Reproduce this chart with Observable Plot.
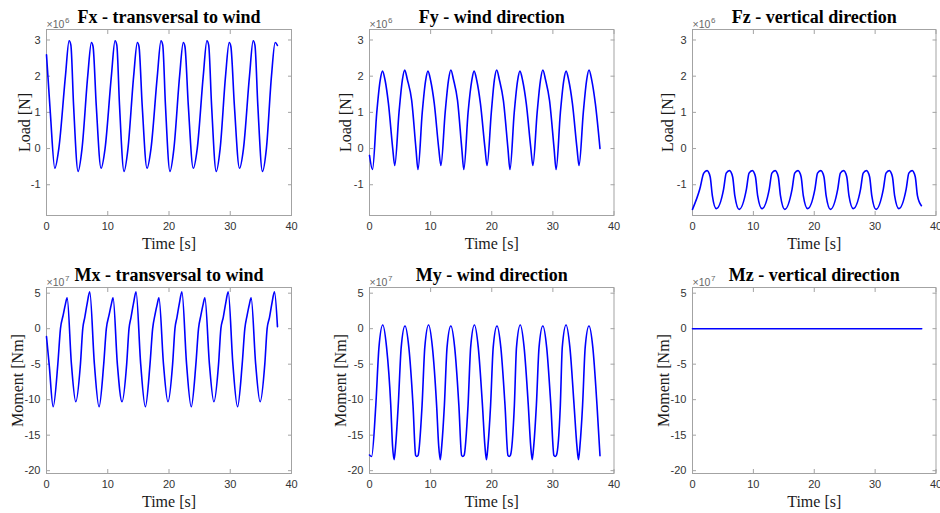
<!DOCTYPE html>
<html>
<head>
<meta charset="utf-8">
<script src="https://cdn.jsdelivr.net/npm/d3@7"></script>
<script src="https://cdn.jsdelivr.net/npm/@observablehq/plot@0.6"></script>
<style>
  body { margin: 0; background: #fff; }
  #grid { position: relative; width: 940px; height: 513px; overflow: hidden; background: #fff; }
  .cell { position: absolute; }
</style>
</head>
<body>
<div id="grid"></div>
<script>
// Tower-base reactions over one simulation run.
// Loads are in units of 1e6 N, moments in units of 1e7 Nm.

const fxTime = [0, 0.62, 1.36,
  2.01, 3.09, 3.69, 3.98, 4.42, 5.16,
  5.80, 6.73, 7.33, 7.60, 8.12, 8.91,
  9.56, 10.59, 11.19, 11.48, 11.92, 12.66,
  13.30, 14.23, 14.83, 15.10, 15.62, 16.41,
  17.06, 18.09, 18.69, 18.98, 19.42, 20.16,
  20.80, 21.73, 22.33, 22.60, 23.15, 23.96,
  24.61, 25.59, 26.19, 26.48, 26.95, 27.71,
  28.35, 29.23, 29.83, 30.10, 30.67, 31.51,
  32.16, 33.14, 33.74, 34.03, 34.50, 35.26,
  35.90, 36.73, 37.33, 37.70];
const fxLoad = [2.59, 1.00, -0.545,
  0.00, 2.00, 2.98, 2.86, 1.20, -0.63,
  0.00, 2.00, 2.93, 2.82, 1.20, -0.545,
  0.00, 2.00, 2.98, 2.86, 1.20, -0.63,
  0.00, 2.00, 2.93, 2.82, 1.20, -0.545,
  0.00, 2.00, 2.98, 2.86, 1.20, -0.63,
  0.00, 2.00, 2.93, 2.82, 1.20, -0.545,
  0.00, 2.00, 2.98, 2.86, 1.20, -0.63,
  0.00, 2.00, 2.93, 2.82, 1.20, -0.545,
  0.00, 2.00, 2.98, 2.86, 1.20, -0.63,
  0.00, 2.00, 2.93, 2.85];

const fyTime = [0, 0.49,
  1.19, 1.74, 2.12, 2.56, 3.10, 3.80, 4.13,
  4.83, 5.38, 5.76, 6.20, 6.90, 7.60, 7.93,
  8.63, 9.18, 9.56, 10.00, 10.60, 11.33, 11.68,
  12.38, 12.93, 13.31, 13.75, 14.40, 15.10, 15.43,
  16.13, 16.73, 17.11, 17.55, 18.15, 18.90, 19.23,
  19.93, 20.43, 20.81, 21.25, 21.90, 22.65, 22.98,
  23.68, 24.23, 24.61, 25.05, 25.65, 26.40, 26.73,
  27.43, 27.98, 28.36, 28.80, 29.45, 30.20, 30.53,
  31.23, 31.78, 32.16, 32.60, 33.20, 33.95, 34.28,
  34.98, 35.53, 35.91, 36.35, 36.95, 37.71];
const fyLoad = [-0.19, -0.58,
  1.00, 1.88, 2.14, 1.88, 1.24, 0.00, -0.47,
  1.00, 1.90, 2.17, 1.90, 1.33, 0.00, -0.58,
  1.00, 1.88, 2.14, 1.88, 1.24, 0.00, -0.47,
  1.00, 1.90, 2.17, 1.90, 1.33, 0.00, -0.58,
  1.00, 1.88, 2.14, 1.88, 1.24, 0.00, -0.47,
  1.00, 1.90, 2.17, 1.90, 1.33, 0.00, -0.58,
  1.00, 1.88, 2.14, 1.88, 1.24, 0.00, -0.47,
  1.00, 1.90, 2.17, 1.90, 1.33, 0.00, -0.58,
  1.00, 1.88, 2.14, 1.88, 1.24, 0.00, -0.47,
  1.00, 1.90, 2.17, 1.90, 1.24, 0.00];

const fzTime = [0,
  1.20, 1.85, 2.39, 2.90, 3.26, 3.91,
  5.11, 5.54, 6.08, 6.59, 6.95, 7.66,
  8.86, 9.29, 9.83, 10.34, 10.70, 11.41,
  12.61, 13.04, 13.58, 14.09, 14.45, 15.16,
  16.36, 16.79, 17.33, 17.84, 18.20, 18.91,
  20.11, 20.54, 21.08, 21.59, 21.95, 22.66,
  23.86, 24.29, 24.83, 25.34, 25.70, 26.41,
  27.61, 28.04, 28.58, 29.09, 29.45, 30.15,
  31.35, 31.79, 32.33, 32.84, 33.20, 33.90,
  35.10, 35.54, 36.08, 36.59, 36.95, 37.60];
const fzLoad = [-1.68,
  -1.12, -0.68, -0.61, -0.78, -1.30, -1.66,
  -1.12, -0.68, -0.61, -0.78, -1.30, -1.68,
  -1.12, -0.68, -0.61, -0.78, -1.30, -1.66,
  -1.12, -0.68, -0.61, -0.78, -1.30, -1.68,
  -1.12, -0.68, -0.61, -0.78, -1.30, -1.66,
  -1.12, -0.68, -0.61, -0.78, -1.30, -1.68,
  -1.12, -0.68, -0.61, -0.78, -1.30, -1.66,
  -1.12, -0.68, -0.61, -0.78, -1.30, -1.68,
  -1.12, -0.68, -0.61, -0.78, -1.30, -1.66,
  -1.12, -0.68, -0.61, -0.78, -1.30, -1.58];

const mxTime = [0, 0.43, 1.09,
  1.85, 2.28, 2.72, 3.10, 3.37, 4.07, 4.78,
  5.54, 5.92, 6.25, 6.65, 7.06, 7.82, 8.58,
  9.34, 9.77, 10.21, 10.60, 10.87, 11.57, 12.33,
  13.09, 13.47, 13.80, 14.21, 14.62, 15.38, 16.14,
  16.90, 17.33, 17.70, 18.09, 18.36, 19.10, 19.83,
  20.59, 20.97, 21.30, 21.70, 22.11, 22.87, 23.63,
  24.39, 24.82, 25.21, 25.59, 25.86, 26.60, 27.33,
  28.09, 28.47, 28.86, 29.26, 29.67, 30.43, 31.19,
  31.95, 32.38, 32.76, 33.14, 33.41, 34.15, 34.88,
  35.64, 36.02, 36.41, 36.81, 37.22, 37.71];
const mxMoment = [-1.12, -5.0, -11.0,
  -5.0, 0.0, 1.9, 3.5, 4.35, -5.0, -10.3,
  -5.0, 0.0, 1.6, 3.6, 5.2, -5.0, -11.0,
  -5.0, 0.0, 1.9, 3.5, 4.35, -5.0, -10.3,
  -5.0, 0.0, 1.6, 3.6, 5.2, -5.0, -11.0,
  -5.0, 0.0, 1.9, 3.5, 4.35, -5.0, -10.3,
  -5.0, 0.0, 1.6, 3.6, 5.2, -5.0, -11.0,
  -5.0, 0.0, 1.9, 3.5, 4.35, -5.0, -10.3,
  -5.0, 0.0, 1.6, 3.6, 5.2, -5.0, -11.0,
  -5.0, 0.0, 1.9, 3.5, 4.35, -5.0, -10.3,
  -5.0, 0.0, 1.6, 3.6, 5.2, 0.28];

const myTime = [0, 0.35,
  1.03, 1.55, 2.17, 2.79, 3.48, 3.77, 4.02, 4.27,
  4.70, 5.19, 5.81, 6.43, 7.12, 7.55, 7.74, 7.95,
  8.60, 9.05, 9.67, 10.29, 10.98, 11.32, 11.57, 11.82,
  12.25, 12.69, 13.31, 13.93, 14.62, 15.07, 15.27, 15.47,
  16.12, 16.55, 17.17, 17.79, 18.48, 18.88, 19.13, 19.38,
  19.81, 20.24, 20.86, 21.48, 22.17, 22.65, 22.85, 23.05,
  23.70, 24.05, 24.67, 25.29, 25.98, 26.37, 26.62, 26.87,
  27.30, 27.74, 28.36, 28.98, 29.67, 30.17, 30.37, 30.57,
  31.22, 31.54, 32.16, 32.78, 33.47, 33.93, 34.18, 34.43,
  34.86, 35.29, 35.91, 36.53, 37.22, 37.71];
const myMoment = [-17.8, -18.0,
  -10.8, -2.6, 0.51, -2.6, -10.8, -16.5, -18.45, -16.5,
  -10.8, -2.6, 0.37, -2.6, -10.8, -17.85, -18.0, -17.85,
  -10.8, -2.6, 0.51, -2.6, -10.8, -16.5, -18.45, -16.5,
  -10.8, -2.6, 0.37, -2.6, -10.8, -17.85, -18.0, -17.85,
  -10.8, -2.6, 0.51, -2.6, -10.8, -16.5, -18.45, -16.5,
  -10.8, -2.6, 0.37, -2.6, -10.8, -17.85, -18.0, -17.85,
  -10.8, -2.6, 0.51, -2.6, -10.8, -16.5, -18.45, -16.5,
  -10.8, -2.6, 0.37, -2.6, -10.8, -17.85, -18.0, -17.85,
  -10.8, -2.6, 0.51, -2.6, -10.8, -16.5, -18.45, -16.5,
  -10.8, -2.6, 0.37, -2.6, -10.8, -17.9];

const mzTime = [0, 37.65];
const mzMoment = [0, 0];

// Axis ticks and limits
const timeTicks = [0, 10, 20, 30, 40];
const timeRange = [0, 40];
const loadTicks = [-1, 0, 1, 2, 3];
const loadRange = [-1.85, 3.29];
const momentTicks = [-20, -15, -10, -5, 0, 5];
const momentRange = [-20.4, 5.8];

const serif = "'Liberation Serif', 'Times New Roman', serif";
const boxColor = "#a3a3a3";
const tickTextColor = "#333333";
const lineColor = "#0000ff";

const kinds = {
  load: {label: "Load [N]", power: "6", ticks: loadTicks, domain: loadRange},
  moment: {label: "Moment [Nm]", power: "7", ticks: momentTicks, domain: momentRange}
};

// 2 x 3 layout of small multiples
const columns = [
  {left: 0, width: 313, marginLeft: 46, marginRight: 22},
  {left: 313, width: 314, marginLeft: 56, marginRight: 13.5},
  {left: 627, width: 313, marginLeft: 65, marginRight: 4.5}
];
const rows = [
  {top: 0, height: 256, marginTop: 29, marginBottom: 41},
  {top: 256, height: 257, marginTop: 31, marginBottom: 40}
];

const panels = [
  {title: "Fx - transversal to wind", time: fxTime, value: fxLoad, kind: "load", col: 0, row: 0, labelGap: 17},
  {title: "Fy - wind direction", time: fyTime, value: fyLoad, kind: "load", col: 1, row: 0, labelGap: 19},
  {title: "Fz - vertical direction", time: fzTime, value: fzLoad, kind: "load", col: 2, row: 0, labelGap: 19.5},
  {title: "Mx - transversal to wind", time: mxTime, value: mxMoment, kind: "moment", col: 0, row: 1, labelGap: 23.5},
  {title: "My - wind direction", time: myTime, value: myMoment, kind: "moment", col: 1, row: 1, labelGap: 23.5},
  {title: "Mz - vertical direction", time: mzTime, value: mzMoment, kind: "moment", col: 2, row: 1, labelGap: 23.5}
];

const grid = document.getElementById("grid");
for (const p of panels) {
  const c = columns[p.col], r = rows[p.row], k = kinds[p.kind];
  const data = p.time.map((t, i) => ({t, v: p.value[i]}));
  const chart = Plot.plot({
    width: c.width,
    height: r.height,
    marginLeft: c.marginLeft,
    marginRight: c.marginRight,
    marginTop: r.marginTop,
    marginBottom: r.marginBottom,
    style: {fontFamily: "'Liberation Sans', Arial, sans-serif", fontSize: "11px", background: "transparent"},
    x: {domain: timeRange},
    y: {domain: k.domain},
    marks: [
      Plot.frame({stroke: boxColor}),
      Plot.axisX(timeTicks, {anchor: "bottom", tickSize: -4, tickPadding: 11, stroke: boxColor, fill: tickTextColor, tickFormat: d => String(d), label: null}),
      Plot.axisX(timeTicks, {anchor: "top", tickSize: -4, stroke: boxColor, tickFormat: () => "", label: null}),
      Plot.axisY(k.ticks, {anchor: "left", tickSize: -4, tickPadding: 10, stroke: boxColor, fill: tickTextColor, tickFormat: d => String(d), label: null}),
      Plot.axisY(k.ticks, {anchor: "right", tickSize: -4, stroke: boxColor, tickFormat: () => "", label: null}),
      Plot.line(data, {x: "t", y: "v", stroke: lineColor, strokeWidth: 1.6, curve: "monotone-x"}),
      Plot.text([p.title], {text: d => d, frameAnchor: "top", lineAnchor: "bottom", dy: -6.5, fontFamily: serif, fontWeight: "bold", fontSize: 18, fill: "#000"}),
      Plot.text(["Time [s]"], {text: d => d, frameAnchor: "bottom", lineAnchor: "bottom", dy: 33.5, fontFamily: serif, fontSize: 16, fill: "#1a1a1a"}),
      Plot.text([k.label], {text: d => d, frameAnchor: "left", rotate: -90, textAnchor: "middle", lineAnchor: "bottom", dx: -p.labelGap, fontFamily: serif, fontSize: 16, fill: "#1a1a1a"}),
      // axis multiplier: ×10 with a raised power
      Plot.text(["×10"], {text: d => d, frameAnchor: "top-left", textAnchor: "start", lineAnchor: "bottom", dy: -2, fontSize: 10.5, fill: "#666"}),
      Plot.text([k.power], {text: d => d, frameAnchor: "top-left", textAnchor: "start", lineAnchor: "bottom", dx: 18.5, dy: -7, fontSize: 8, fill: "#666"})
    ]
  });
  const cell = document.createElement("div");
  cell.className = "cell";
  cell.style.left = c.left + "px";
  cell.style.top = r.top + "px";
  cell.style.width = c.width + "px";
  cell.style.height = r.height + "px";
  cell.appendChild(chart);
  grid.appendChild(cell);
}
</script>
</body>
</html>
